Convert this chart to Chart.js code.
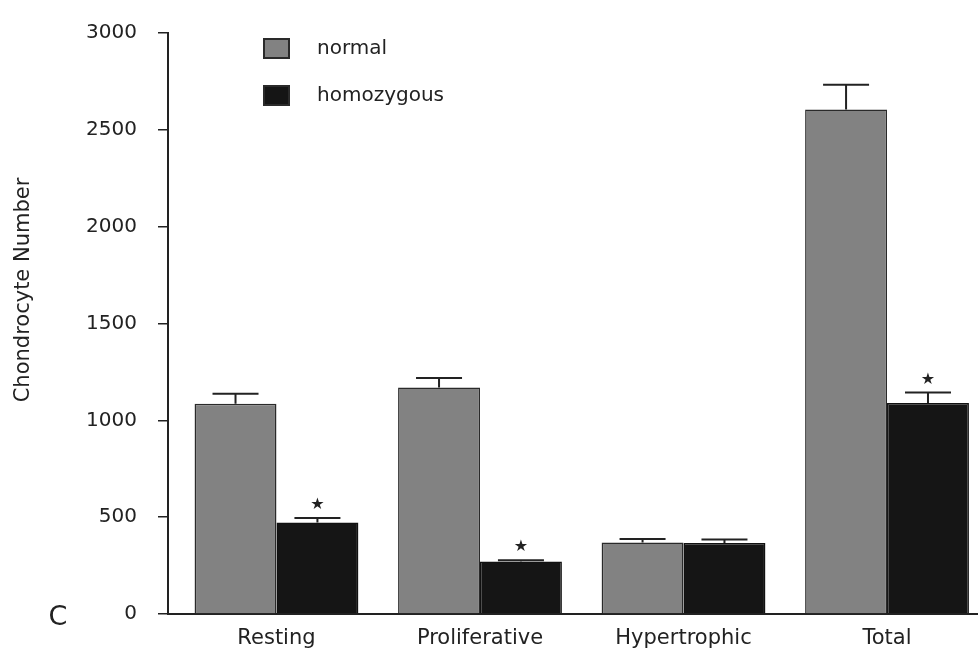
<!DOCTYPE html>
<html><head><meta charset="utf-8">
<script src="https://cdn.jsdelivr.net/npm/chart.js@4/dist/chart.umd.min.js"></script>
<style>html,body{margin:0;padding:0;background:#fff;overflow:hidden}</style>
</head><body><canvas id="c" width="978" height="652"></canvas>
<script>
const categories = ['Resting', 'Proliferative', 'Hypertrophic', 'Total'];
const seriesNames = ['normal', 'homozygous'];
const normalValues = [1085, 1170, 369, 2605];
const normalErrors = [52, 48, 18, 128];
const homozygousValues = [472, 271, 367, 1090];
const homozygousErrors = [24, 7, 18, 54];
const homozygousSignificant = [true, true, false, true];
const yTicks = [0, 500, 1000, 1500, 2000, 2500, 3000];
const panelLabel = 'C';
const yTitle = 'Chondrocyte Number';

const FONT = 'DejaVu Sans';
const INK = '#222';
const colors = ['#828282', '#151515'];

const toPoints = vals => vals.map((v, i) => ({x: i, y: v}));

const extras = {
  id: 'extras',
  afterDatasetsDraw(chart) {
    const ctx = chart.ctx, y = chart.scales.y;
    const errs = [normalErrors, homozygousErrors];
    const vals = [normalValues, homozygousValues];
    ctx.save();
    chart.data.datasets.forEach((ds, di) => {
      const meta = chart.getDatasetMeta(di);
      meta.data.forEach((bar, j) => {
        const top = y.getPixelForValue(vals[di][j]);
        const capY = y.getPixelForValue(vals[di][j] + errs[di][j]);
        ctx.strokeStyle = INK;
        ctx.lineWidth = 2;
        ctx.beginPath();
        ctx.moveTo(bar.x, top); ctx.lineTo(bar.x, capY);
        ctx.moveTo(bar.x - 23, capY); ctx.lineTo(bar.x + 23, capY);
        ctx.stroke();
        if (di === 1 && homozygousSignificant[j]) {
          ctx.fillStyle = INK;
          ctx.font = '16px ' + FONT;
          ctx.textAlign = 'center';
          ctx.textBaseline = 'middle';
          ctx.fillText('★', bar.x, capY - 13);
        }
      });
    });
    // legend
    ctx.font = '20px ' + FONT;
    ctx.textAlign = 'left';
    ctx.textBaseline = 'middle';
    seriesNames.forEach((name, i) => {
      const by = 39 + i * 47;
      ctx.fillStyle = colors[i];
      ctx.fillRect(264, by, 25, 19);
      ctx.strokeStyle = '#2a2a2a';
      ctx.lineWidth = 2;
      ctx.strokeRect(264, by, 25, 19);
      ctx.fillStyle = INK;
      ctx.fillText(name, 317, by + 9.5);
    });
    // panel label
    ctx.font = '27px ' + FONT;
    ctx.textAlign = 'center';
    ctx.textBaseline = 'middle';
    ctx.fillText(panelLabel, 58, 618);
    // y axis title
    ctx.translate(24, 290);
    ctx.rotate(-Math.PI / 2);
    ctx.font = '21px ' + FONT;
    ctx.fillText(yTitle, 0, 0);
    ctx.restore();
  }
};

new Chart(document.getElementById('c'), {
  type: 'bar',
  data: {
    datasets: [
      {label: seriesNames[0], data: toPoints(normalValues), backgroundColor: colors[0], borderColor: '#2a2a2a', borderWidth: 1.5},
      {label: seriesNames[1], data: toPoints(homozygousValues), backgroundColor: colors[1], borderColor: '#111', borderWidth: 1.5}
    ]
  },
  options: {
    responsive: false,
    animation: false,
    devicePixelRatio: 1,
    layout: {padding: {top: 19, right: 0, bottom: 0, left: 0}},
    datasets: {bar: {categoryPercentage: 0.805, barPercentage: 1.0}},
    plugins: {legend: {display: false}, tooltip: {enabled: false}},
    scales: {
      x: {
        type: 'linear',
        offset: false,
        min: -0.533,
        max: 3.447,
        afterBuildTicks: s => { s.ticks = categories.map((c, i) => ({value: i})); },
        afterFit: s => { s.height = 38; },
        grid: {display: false, drawTicks: false, offset: false},
        border: {display: true, color: INK, width: 2},
        ticks: {
          autoSkip: false, maxRotation: 0, padding: 12,
          color: INK, font: {family: FONT, size: 21},
          callback: v => categories[v]
        }
      },
      y: {
        min: 0, max: 3000,
        afterBuildTicks: s => { s.ticks = yTicks.map(v => ({value: v})); },
        afterFit: s => { s.width = 168; },
        grid: {drawOnChartArea: false, drawTicks: true, tickLength: 10, color: INK, lineWidth: 1.5},
        border: {display: true, color: INK, width: 2},
        ticks: {padding: 21, color: INK, font: {family: FONT, size: 20}, callback: v => String(v)},
        title: {display: false}
      }
    }
  },
  plugins: [extras]
});
</script>
</body></html>
